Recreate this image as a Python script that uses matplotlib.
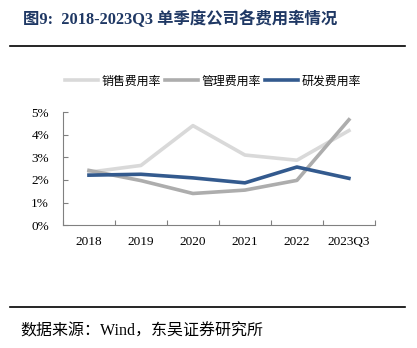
import matplotlib
matplotlib.use("Agg")
import matplotlib.pyplot as plt
from matplotlib.ticker import FuncFormatter

# 各费用率 (%)
periods = ["2018", "2019", "2020", "2021", "2022", "2023Q3"]
sales_rate = [2.34, 2.64, 4.40, 3.10, 2.87, 4.18]
admin_rate = [2.42, 1.97, 1.40, 1.55, 1.98, 4.66]
rd_rate = [2.21, 2.25, 2.09, 1.87, 2.57, 2.07]
series_names = ["销售费用率", "管理费用率", "研发费用率"]

FONTS = ["Liberation Serif", "Noto Sans CJK SC"]
plt.rcParams["font.family"] = FONTS

fig = plt.figure(figsize=(4.17, 3.48), dpi=100)

# title and rules
fig.text(0.055, 0.943, "图9:  2018-2023Q3 单季度公司各费用率情况",
         fontsize=11.8, fontweight="bold", color="#1F3864", va="center")
fig.add_artist(plt.Line2D([0.025, 0.972], [0.868, 0.868], color="black", lw=1.2))
fig.add_artist(plt.Line2D([0.025, 0.972], [0.118, 0.118], color="black", lw=1.2))
fig.text(0.048, 0.048, "数据来源：Wind，东吴证券研究所", fontsize=11.5,
         color="black", va="center")

ax = fig.add_axes([0.151, 0.353, 0.748, 0.325])
x = list(range(len(periods)))
ax.plot(x, sales_rate, color="#D9D9D9", lw=2.6, label=series_names[0])
ax.plot(x, admin_rate, color="#ADADAD", lw=2.6, label=series_names[1])
ax.plot(x, rd_rate, color="#335A8E", lw=2.6, label=series_names[2])

ax.set_xlim(-0.5, len(periods) - 0.5)
ax.set_ylim(0, 5)
ax.set_yticks(range(6))
ax.yaxis.set_major_formatter(FuncFormatter(lambda v, _: f"{v:.0f}%"))

# category labels centred, tick marks on the boundaries
ax.set_xticks([i - 0.5 for i in range(len(periods) + 1)])
ax.set_xticklabels([])
ax.set_xticks(x, minor=True)
ax.set_xticklabels(periods, minor=True)
ax.tick_params(axis="x", which="minor", length=0, pad=8, labelsize=9.5)
ax.tick_params(axis="x", which="major", direction="in", length=3.5, color="#808080")
ax.tick_params(axis="y", direction="in", length=3.5, color="#808080",
               labelsize=9.5, pad=10)

for side in ("top", "right"):
    ax.spines[side].set_visible(False)
for side in ("left", "bottom"):
    ax.spines[side].set_color("#808080")
    ax.spines[side].set_linewidth(0.8)

ax.legend(loc="center", bbox_to_anchor=(0.48, 1.27), ncol=3, frameon=False,
          fontsize=8.6, handlelength=2.8, handletextpad=0.25, columnspacing=0.35,
          borderpad=0)

fig.savefig("out.png", dpi=100)
